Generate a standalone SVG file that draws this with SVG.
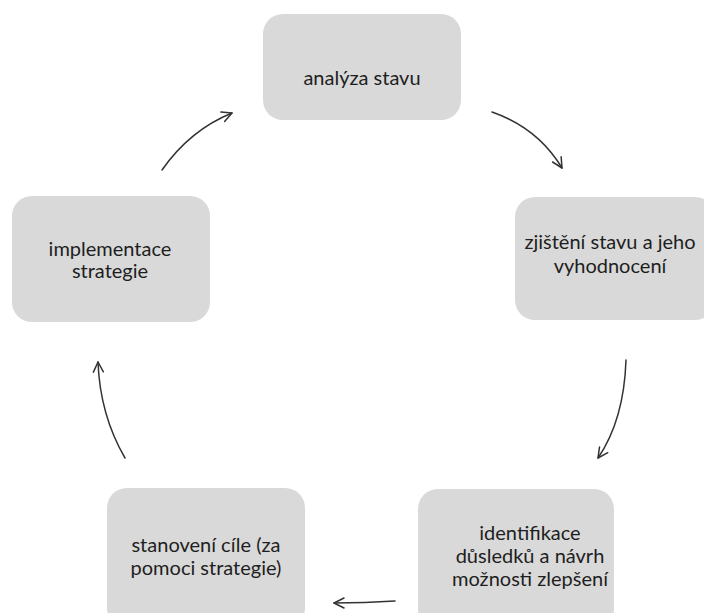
<svg xmlns="http://www.w3.org/2000/svg" width="704" height="613" viewBox="0 0 704 613">
  <defs>
    <style>
      .box { fill: #d9d9d9; }
      .lbl { font-family: Lato, "Open Sans", "Liberation Sans", sans-serif; font-size: 20px; fill: #1e1e1e; text-anchor: middle; }
      .arc { fill: none; stroke: #333; stroke-width: 1.5; stroke-linecap: round; }
    </style>
    <marker id="head" viewBox="0 0 12 12" refX="11" refY="6" markerWidth="12" markerHeight="12" markerUnits="userSpaceOnUse" orient="auto">
      <path d="M1,1 L11,6 L1,11" fill="none" stroke="#333" stroke-width="1.5" stroke-linecap="round" stroke-linejoin="round"/>
    </marker>
  </defs>
  <rect width="704" height="613" fill="#ffffff"/>

  <g id="node-analyza">
    <rect class="box" x="263" y="14" width="198" height="106" rx="20"/>
    <text class="lbl" x="362" y="85">analýza stavu</text>
  </g>

  <g id="node-zjisteni">
    <rect class="box" x="515" y="197" width="200" height="123" rx="20"/>
    <text class="lbl" x="610" y="249">zjištění stavu a jeho</text>
    <text class="lbl" x="610" y="273">vyhodnocení</text>
  </g>

  <g id="node-identifikace">
    <rect class="box" x="418" y="489" width="196" height="140" rx="20"/>
    <text class="lbl" x="530" y="540">identifikace</text>
    <text class="lbl" x="530" y="563">důsledků a návrh</text>
    <text class="lbl" x="530" y="586">možnosti zlepšení</text>
  </g>

  <g id="node-stanoveni">
    <rect class="box" x="107" y="488" width="198" height="140" rx="20"/>
    <text class="lbl" x="206" y="552">stanovení cíle (za</text>
    <text class="lbl" x="206" y="575">pomoci strategie)</text>
  </g>

  <g id="node-implementace">
    <rect class="box" x="12" y="196" width="198" height="126" rx="20"/>
    <text class="lbl" x="110" y="256">implementace</text>
    <text class="lbl" x="110" y="278">strategie</text>
  </g>

  <g id="connectors">
    <path class="arc" d="M492,112 Q538,128 562,168" marker-end="url(#head)"/>
    <path class="arc" d="M626,360 Q624,420 598,458" marker-end="url(#head)"/>
    <path class="arc" d="M395,601 Q365,603 334,603" marker-end="url(#head)"/>
    <path class="arc" d="M125,458 Q100,415 98,362" marker-end="url(#head)"/>
    <path class="arc" d="M162,170 Q190,130 232,113" marker-end="url(#head)"/>
  </g>
</svg>
